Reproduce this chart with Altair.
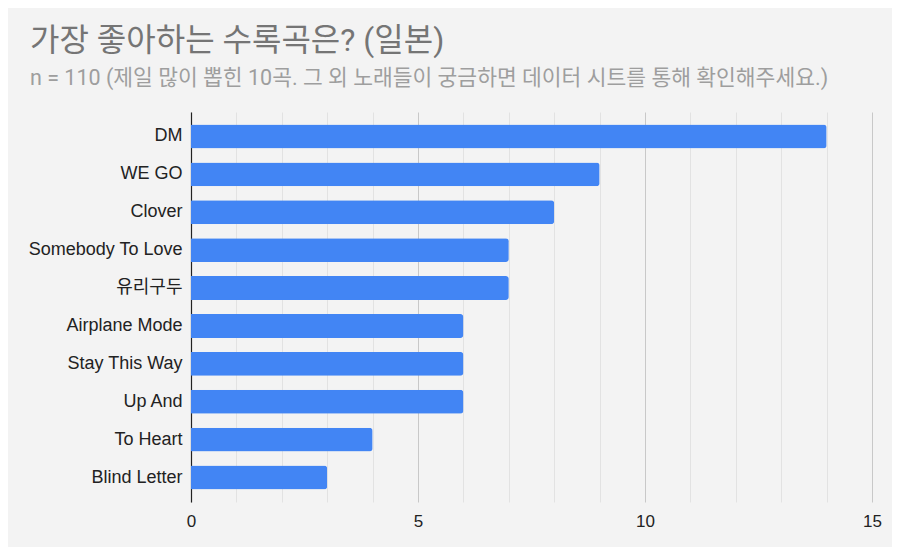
import altair as alt
import pandas as pd

songs = ["DM", "WE GO", "Clover", "Somebody To Love", "유리구두",
         "Airplane Mode", "Stay This Way", "Up And", "To Heart", "Blind Letter"]
votes = [14, 9, 8, 7, 7, 6, 6, 6, 4, 3]
x_ticks = list(range(0, 16))

title_text = "가장 좋아하는 수록곡은? (일본)"
subtitle_text = "n = 110 (제일 많이 뽑힌 10곡. 그 외 노래들이 궁금하면 데이터 시트를 통해 확인해주세요.)"

df = pd.DataFrame({"song": songs, "votes": votes})

FONT = "Liberation Sans, Noto Sans CJK KR, sans-serif"
TFONT = "Roboto, Noto Sans CJK KR, sans-serif"

chart = alt.Chart(df).mark_bar(color="#4285f4", cornerRadiusEnd=3).encode(
    x=alt.X("votes:Q", scale=alt.Scale(domain=[0, 15], nice=False),
            axis=alt.Axis(title=None, values=x_ticks, ticks=False, domain=False,
                          labelFlush=False, labelOverlap=False,
                          labelExpr="datum.value % 5 === 0 ? datum.label : ''",
                          labelFont=FONT, labelFontSize=17, labelColor="#222222",
                          labelPadding=11,
                          gridColor={"condition": {"test": "datum.value % 5 === 0", "value": "#c8c8c8"},
                                     "value": "#e2e2e2"})),
    y=alt.Y("song:N", sort=songs,
            scale=alt.Scale(paddingInner=0.37, paddingOuter=0.33),
            axis=alt.Axis(title=None, ticks=False, domain=True, domainColor="#222222",
                          domainWidth=1.2, labelFont=FONT, labelFontSize=18,
                          labelColor="#222222", labelPadding=9, labelLimit=200)),
).properties(
    width=681, height=390,
    title=alt.TitleParams(text=title_text, subtitle=subtitle_text, anchor="start",
                          frame="group", dx=-161, offset=22,
                          font=TFONT, fontSize=32, fontWeight="normal", color="#757575",
                          subtitleFont=TFONT, subtitleFontSize=21.5, subtitleColor="#9e9e9e",
                          subtitlePadding=10),
    padding={"left": 183, "top": 104, "right": 20, "bottom": 45},
    autosize=alt.AutoSizeParams(type="none"),
    background="#f3f3f3",
).configure_view(stroke=None)

chart.save("out.html", embed_options={"renderer": "svg", "actions": False})
